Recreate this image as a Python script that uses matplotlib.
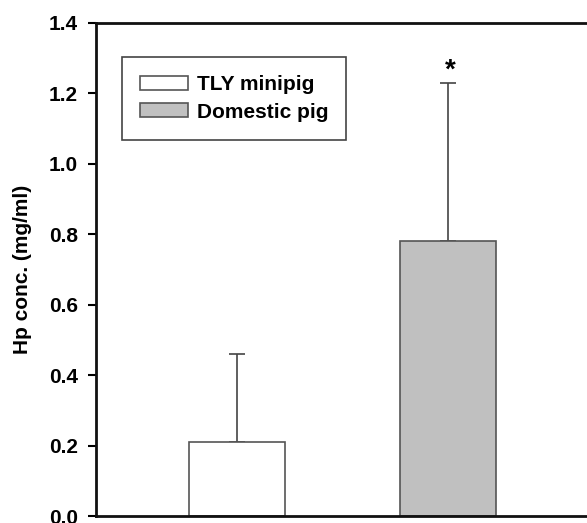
import matplotlib.pyplot as plt

# Haptoglobin concentration by pig breed
groups = ["TLY minipig", "Domestic pig"]
means = [0.21, 0.78]
upper_err = [0.25, 0.45]
bar_colors = ["white", "#c0c0c0"]
y_ticks = [0.0, 0.2, 0.4, 0.6, 0.8, 1.0, 1.2, 1.4]

plt.rcParams["font.family"] = ["Liberation Sans", "DejaVu Sans"]
plt.rcParams["font.weight"] = "bold"

fig = plt.figure(figsize=(5.87, 5.23), dpi=100)
ax = fig.add_axes([96 / 587, 7 / 523, 493.5 / 587, 493 / 523])

positions = [1, 2]
bars = ax.bar(positions, means, width=0.454, color=bar_colors,
              edgecolor="#555555", linewidth=1.2, label=groups, zorder=2)
ax.errorbar(positions, means, yerr=[[0, 0], upper_err], fmt="none",
            ecolor="#444444", elinewidth=1.2, capsize=5.8, capthick=1.2, zorder=1)

# significance marker
ax.text(2.01, 1.245, "*", ha="center", va="baseline", fontsize=20, fontweight="bold")

ax.set_xlim(0.333, 2.667)
ax.set_ylim(0, 1.4)
ax.set_yticks(y_ticks)
ax.set_yticklabels([f"{t:.1f}" for t in y_ticks], fontsize=15, fontweight="bold")
ax.set_xticks([])
ax.set_ylabel("Hp conc. (mg/ml)", fontsize=15, fontweight="bold", labelpad=12)

for side in ["left", "top", "bottom"]:
    ax.spines[side].set_linewidth(2)
    ax.spines[side].set_color("#111111")
ax.spines["right"].set_visible(False)
ax.tick_params(axis="y", direction="out", length=6, width=1.5, pad=7)

leg = ax.legend(bars, groups, loc="upper left", bbox_to_anchor=(0.0527, 0.931),
                borderaxespad=0, fancybox=False, edgecolor="#444444",
                framealpha=1, fontsize=15, handlelength=2.3, handleheight=0.65,
                handletextpad=0.4, labelspacing=0.4, borderpad=0.88)
leg.get_frame().set_linewidth(1.2)
for txt in leg.get_texts():
    txt.set_fontweight("bold")

fig.savefig("out.png", dpi=100)
